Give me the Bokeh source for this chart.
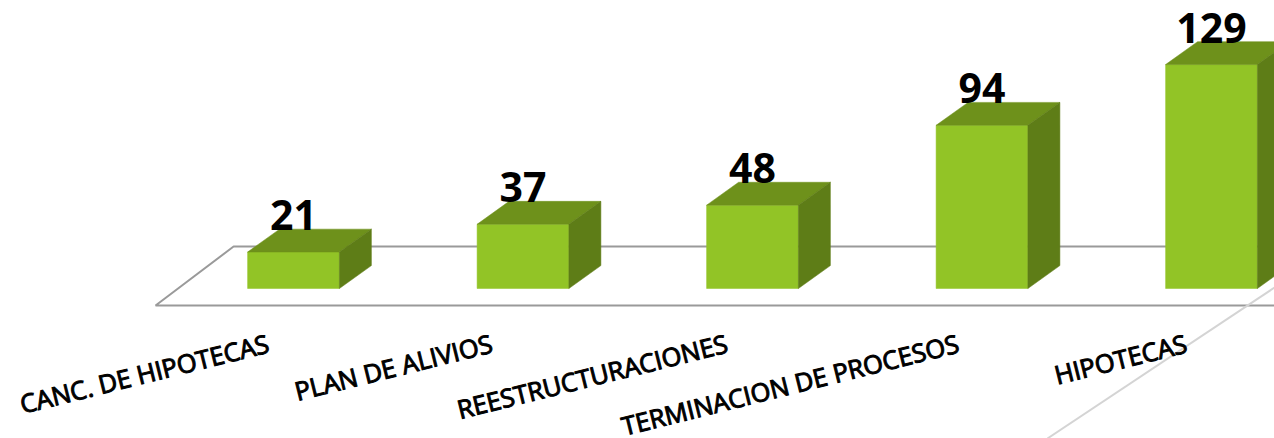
from bokeh.plotting import figure
from bokeh.models import Range1d
from bokeh.core.properties import value
from bokeh.embed import file_html
from bokeh.resources import INLINE

categories = ["CANC. DE HIPOTECAS", "PLAN DE ALIVIOS", "REESTRUCTURACIONES", "TERMINACION DE PROCESOS", "HIPOTECAS"]
values = [21, 37, 48, 94, 129]
label_shift = [-0.110, -0.137, -0.112, -0.104, -0.110]

BAR_W = 0.4
DX = 0.1394
DY = 13.2
FLOOR_BACK = 24.2
FLOOR_FRONT = -9.8
FLOOR_LEFT_FRONT = -0.601
FLOOR_LEFT_BACK = -0.261
X_MIN, X_MAX = -1.2767, 4.2745

p = figure(width=1274, height=438, output_backend="svg", toolbar_location=None,
           x_range=Range1d(X_MIN, X_MAX), y_range=Range1d(-86.4, 165.9),
           min_border=0, outline_line_color=None, background_fill_color="white",
           border_fill_color="white")
p.axis.visible = False
p.grid.visible = False

# floor
p.line([X_MAX, FLOOR_LEFT_BACK, FLOOR_LEFT_FRONT, X_MAX],
       [FLOOR_BACK, FLOOR_BACK, FLOOR_FRONT, FLOOR_FRONT],
       line_color="#9a9a9a", line_width=2)
p.line([4.275, 3.285], [0.58, -86.4], line_color="#d4d4d4", line_width=2)

xs = list(range(len(values)))
left = [x - BAR_W / 2 for x in xs]
right = [x + BAR_W / 2 for x in xs]

# front faces
p.quad(left=left, right=right, bottom=[0] * len(values), top=values,
       fill_color="#92c426", line_color="#92c426", line_width=0.5)
# top faces
p.patches([[l, r, r + DX, l + DX] for l, r in zip(left, right)],
          [[v, v, v + DY, v + DY] for v in values],
          fill_color="#6e911b", line_color="#6e911b", line_width=0.5)
# side faces
p.patches([[r, r + DX, r + DX, r] for r in right],
          [[0, DY, v + DY, v] for v in values],
          fill_color="#5e7d17", line_color="#5e7d17", line_width=0.5)

# value labels
p.text(xs, values, text=[str(v) for v in values], text_align="center",
       text_baseline="alphabetic", y_offset=-37, text_color="black",
       text_font=value("Open Sans"), text_font_style="bold", text_font_size="41px")

# category labels
p.text([x + s for x, s in zip(xs, label_shift)], [-31] * len(xs), text=categories, angle=14, angle_units="deg",
       text_align="right", text_baseline="alphabetic", text_color="black", text_outline_color="black",
       text_font=value("Open Sans"), text_font_style="normal", text_font_size="25.5px")

open("out.html", "w").write(file_html(p, INLINE))
